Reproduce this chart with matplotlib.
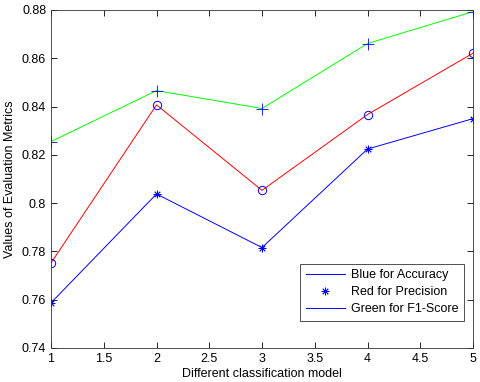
import matplotlib; matplotlib.use('Agg')
import matplotlib.pyplot as plt
from matplotlib.lines import Line2D

plt.rcParams['font.family'] = ['Liberation Sans', 'DejaVu Sans']

models = [1, 2, 3, 4, 5]
accuracy = [0.7587, 0.8038, 0.7816, 0.8224, 0.8350]
precision = [0.7752, 0.8407, 0.8053, 0.8367, 0.8621]
f1_score = [0.8255, 0.8466, 0.8392, 0.8661, 0.8793]

fig = plt.figure(figsize=(4.8, 3.82), dpi=100)
ax = fig.add_axes([51/480, 1 - 348/382, 422/480, 338/382])

lw = 0.7
star = (8, 2, 0)  # MATLAB-style asterisk
ax.plot(models, accuracy, color='#0000ff', lw=lw)
ax.plot(models, accuracy, ls='none', marker=star, color='#0000ff', ms=5.5, mew=0.6)
ax.plot(models, precision, color='#ff0000', lw=lw)
ax.plot(models, precision, ls='none', marker='o', mfc='none', mec='#0000ff', ms=6, mew=0.7)
ax.plot(models, f1_score, color='#00ff00', lw=lw)
ax.plot(models, f1_score, ls='none', marker='+', color='#0000ff', ms=8, mew=0.6)

ax.set_xlim(1, 5)
ax.set_ylim(0.74, 0.88)
ax.set_xticks([1, 1.5, 2, 2.5, 3, 3.5, 4, 4.5, 5])
ax.set_xticklabels(['1', '1.5', '2', '2.5', '3', '3.5', '4', '4.5', '5'])
ax.set_yticks([0.74, 0.76, 0.78, 0.8, 0.82, 0.84, 0.86, 0.88])
ax.set_yticklabels(['0.74', '0.76', '0.78', '0.8', '0.82', '0.84', '0.86', '0.88'])
ax.tick_params(direction='in', top=True, right=True, labelsize=9, length=4, width=0.6)
for s in ax.spines.values():
    s.set_linewidth(0.6)
    s.set_color('#333333')

ax.set_xlabel('Different classification model', fontsize=9, labelpad=2)
ax.set_ylabel('Values of Evaluation Metrics', fontsize=9, labelpad=4)

handles = [
    Line2D([], [], color='#0000ff', lw=lw),
    Line2D([], [], ls='none', marker=star, color='#0000ff', ms=5.5, mew=0.6),
    Line2D([], [], color='#0000ff', lw=lw),
]
labels = ['Blue for Accuracy', 'Red for Precision', 'Green for F1-Score']
leg = ax.legend(handles, labels, loc='lower right', bbox_to_anchor=(0.979, 0.08),
                fontsize=9, fancybox=False, framealpha=1, edgecolor='#333333',
                borderaxespad=0, handlelength=3.1, handletextpad=0.5,
                labelspacing=0.4, borderpad=0.45)
leg.get_frame().set_linewidth(0.6)

fig.savefig('out.png', dpi=100)
